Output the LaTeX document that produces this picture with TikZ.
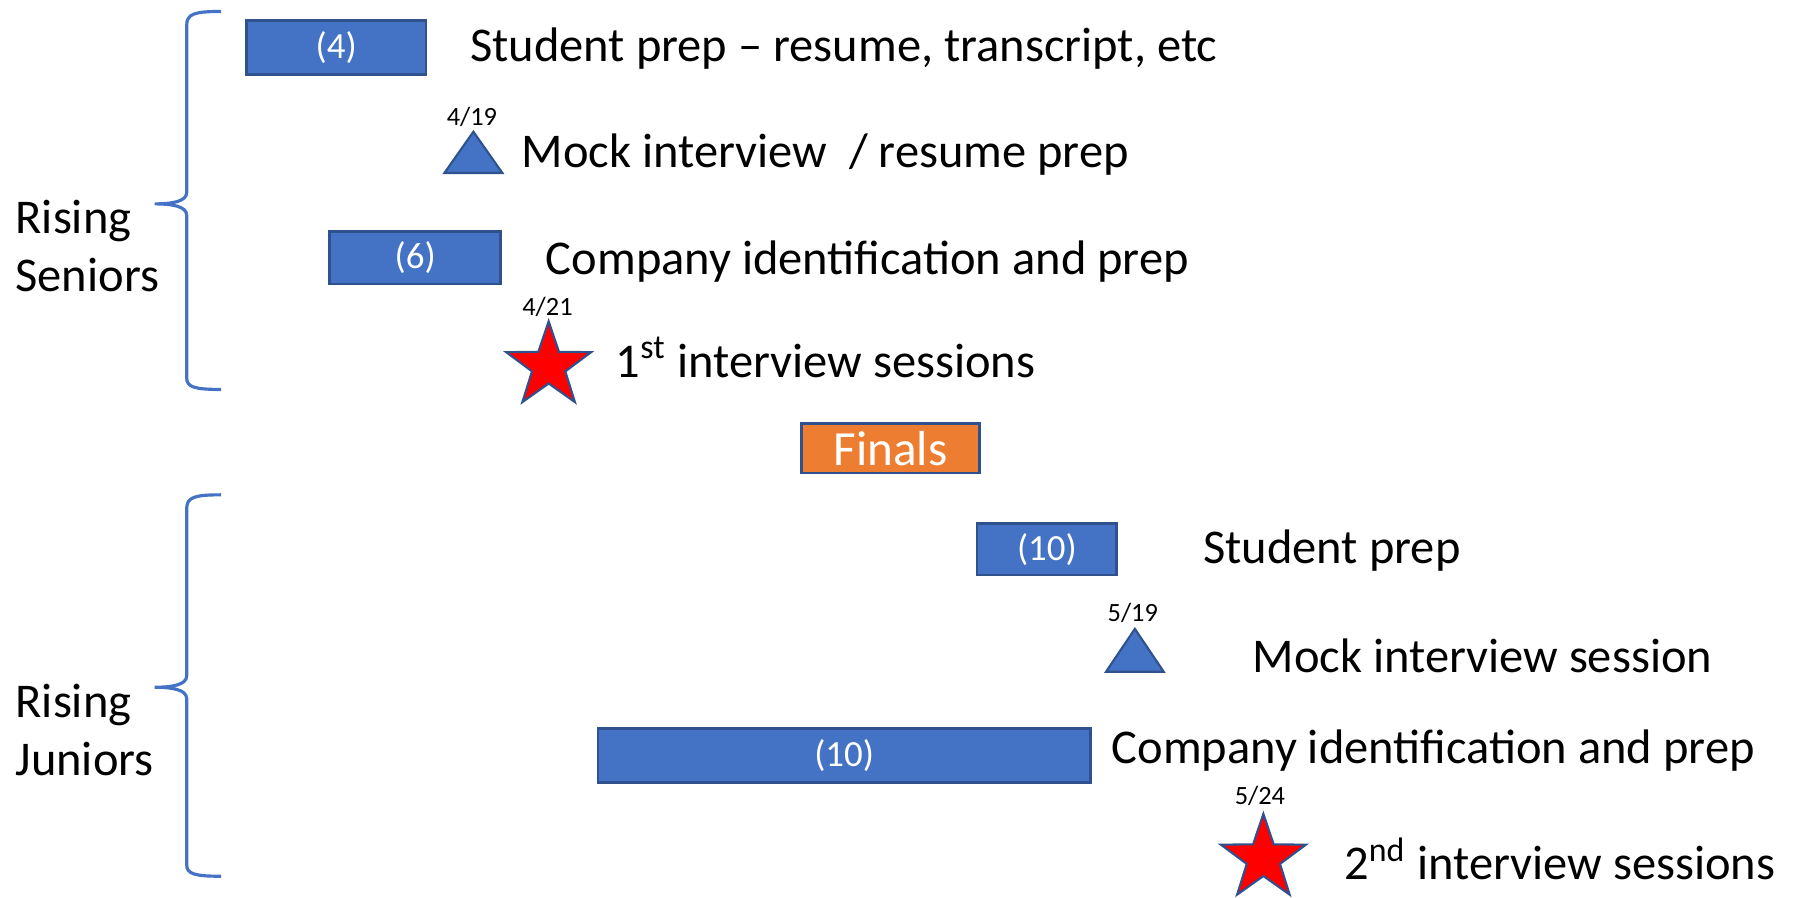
\documentclass[tikz,border=0pt]{standalone}
\usepackage{fontspec}
\setmainfont{Carlito}
\usetikzlibrary{shapes.geometric}
\definecolor{barblue}{HTML}{4472C4}
\definecolor{edgeblue}{HTML}{2F528F}
\definecolor{finalorange}{HTML}{ED7D31}
\newcommand{\pxu}{0.011454cm}
\tikzset{
  bar/.style={draw=edgeblue, fill=barblue, text=white, line width=0.8pt, inner sep=0pt, font=\fontsize{10.5}{12}\selectfont},
  task/.style={anchor=west, inner sep=0pt, font=\fontsize{13.8}{16.5}\selectfont},
  group/.style={anchor=west, inner sep=0pt, align=left, font=\fontsize{13.8}{16.5}\selectfont},
  datelbl/.style={inner sep=0pt, font=\fontsize{7.5}{9}\selectfont},
  mock/.style={draw=edgeblue, fill=barblue, line width=0.6pt, line join=miter},
  session/.style={star, star points=5, star point ratio=2.55, draw=edgeblue, fill=red, line width=0.6pt, inner sep=0pt, minimum size=78*\pxu},
  brace/.style={draw=barblue, line width=0.9pt}
}
\begin{document}
\begin{tikzpicture}[x=0.011454cm, y=-0.011454cm]
\useasboundingbox (0,0) rectangle (1568,784);
\draw[brace] (193,10) .. controls (170,10) and (163,12) .. (163,22) -- (163,168) .. controls (163,176) and (150,178) .. (135,178) .. controls (150,178) and (163,180) .. (163,188) -- (163,330) .. controls (163,338) and (170,340) .. (193,340);
\draw[brace] (193,432) .. controls (170,432) and (163,434) .. (163,444) -- (163,590) .. controls (163,598) and (150,600) .. (135,600) .. controls (150,600) and (163,602) .. (163,610) -- (163,755) .. controls (163,763) and (170,765) .. (193,765);
\node[group] (seniors) at (13,215) {Rising\\Seniors};
\node[group] (juniors) at (13,637) {Rising\\Juniors};
\node[bar, minimum width=157*\pxu, minimum height=47*\pxu] (prepS) at (293.5,41.5) {(4)};
\node[task] (prepSt) at (410,42) {Student prep -- resume, transcript, etc};
\draw[mock] (388,151) -- (413.3,115) -- (438.6,151) -- cycle;
\node[datelbl] (mockSd) at (412,102) {4/19};
\node[task] (mockSt) at (455,135) {Mock interview \ / resume prep};
\node[bar, minimum width=149*\pxu, minimum height=46*\pxu] (compS) at (362.5,225) {(6)};
\node[task] (compSt) at (476,228) {Company identification and prep};
\node[session] (firstS) at (479,319.5) {};
\node[datelbl] (firstSd) at (478,268) {4/21};
\node[task] (firstSt) at (537,312) {1\textsuperscript{st} interview sessions};
\node[bar, fill=finalorange, minimum width=155*\pxu, minimum height=43*\pxu, font=\fontsize{14}{16}\selectfont] (finals) at (777.5,391.5) {Finals};
\node[bar, minimum width=122*\pxu, minimum height=45*\pxu] (prepJ) at (914,479.5) {(10)};
\node[task] (prepJt) at (1050,481) {Student prep};
\draw[mock] (965.6,586.5) -- (990.8,549) -- (1016,586.5) -- cycle;
\node[datelbl] (mockJd) at (989,535) {5/19};
\node[task] (mockJt) at (1093,573) {Mock interview session};
\node[bar, minimum width=430*\pxu, minimum height=47*\pxu] (compJ) at (737,659.5) {(10)};
\node[task] (compJt) at (970,655) {Company identification and prep};
\node[session] (secondJ) at (1103,749.5) {};
\node[datelbl] (secondJd) at (1100,695) {5/24};
\node[task] (secondJt) at (1173,750) {2\textsuperscript{nd} interview sessions};
\end{tikzpicture}
\end{document}
